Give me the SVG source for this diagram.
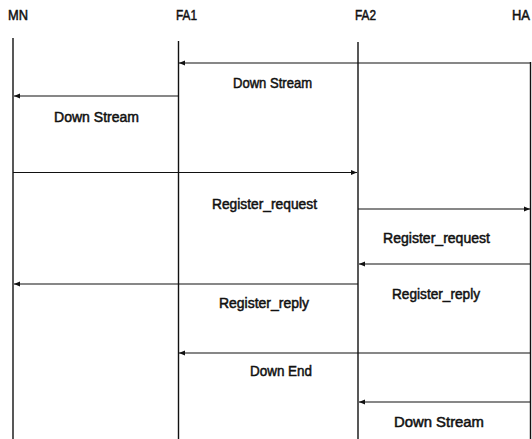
<svg xmlns="http://www.w3.org/2000/svg" width="532" height="439" viewBox="0 0 532 439">
<defs>
<marker id="ah" markerUnits="userSpaceOnUse" markerWidth="6" markerHeight="6" refX="6" refY="3" orient="auto">
<path d="M0,0.5 L6,3 L0,5.5 z" fill="#111"/>
</marker>
</defs>
<style>
.life{stroke:#111;stroke-width:1.4;fill:none}
.msg{stroke:#111;stroke-width:1.2;fill:none;marker-end:url(#ah)}
text{font-family:"Liberation Sans",Arial,sans-serif;font-size:14px;fill:#111;stroke:#111;stroke-width:0.5}
</style>
<rect width="532" height="439" fill="#fff"/>
<g id="MN">
<text x="8" y="20" textLength="20" lengthAdjust="spacingAndGlyphs">MN</text>
<line class="life" x1="13" y1="38" x2="13" y2="439"/>
</g>
<g id="FA1">
<text x="176" y="20" textLength="21" lengthAdjust="spacingAndGlyphs">FA1</text>
<line class="life" x1="178.5" y1="41" x2="178.5" y2="439"/>
</g>
<g id="FA2">
<text x="355" y="20" textLength="21" lengthAdjust="spacingAndGlyphs">FA2</text>
<line class="life" x1="358" y1="42" x2="358" y2="439"/>
</g>
<g id="HA">
<text x="512" y="20" textLength="18" lengthAdjust="spacingAndGlyphs">HA</text>
<line class="life" x1="530.5" y1="62" x2="530.5" y2="439"/>
</g>
<g id="connectors">
<line class="msg" x1="530" y1="63" x2="179" y2="63"/>
<line class="msg" x1="178" y1="96" x2="14" y2="96"/>
<line class="msg" x1="13" y1="172.5" x2="357" y2="172.5"/>
<line class="msg" x1="358" y1="209" x2="530" y2="209"/>
<line class="msg" x1="530" y1="264" x2="359" y2="264"/>
<line class="msg" x1="358" y1="284" x2="14" y2="284"/>
<line class="msg" x1="530" y1="353" x2="179" y2="353"/>
<line class="msg" x1="530" y1="402" x2="359" y2="402"/>
</g>
<g id="labels">
<text x="233" y="88" textLength="79" lengthAdjust="spacingAndGlyphs">Down Stream</text>
<text x="54" y="122" textLength="85" lengthAdjust="spacingAndGlyphs">Down Stream</text>
<text x="212" y="209" textLength="105" lengthAdjust="spacingAndGlyphs">Register_request</text>
<text x="383" y="243" textLength="107" lengthAdjust="spacingAndGlyphs">Register_request</text>
<text x="392" y="299" textLength="88" lengthAdjust="spacingAndGlyphs">Register_reply</text>
<text x="219" y="308" textLength="90" lengthAdjust="spacingAndGlyphs">Register_reply</text>
<text x="250" y="376" textLength="62" lengthAdjust="spacingAndGlyphs">Down End</text>
<text x="394" y="427" textLength="90" lengthAdjust="spacingAndGlyphs">Down Stream</text>
</g>
</svg>
